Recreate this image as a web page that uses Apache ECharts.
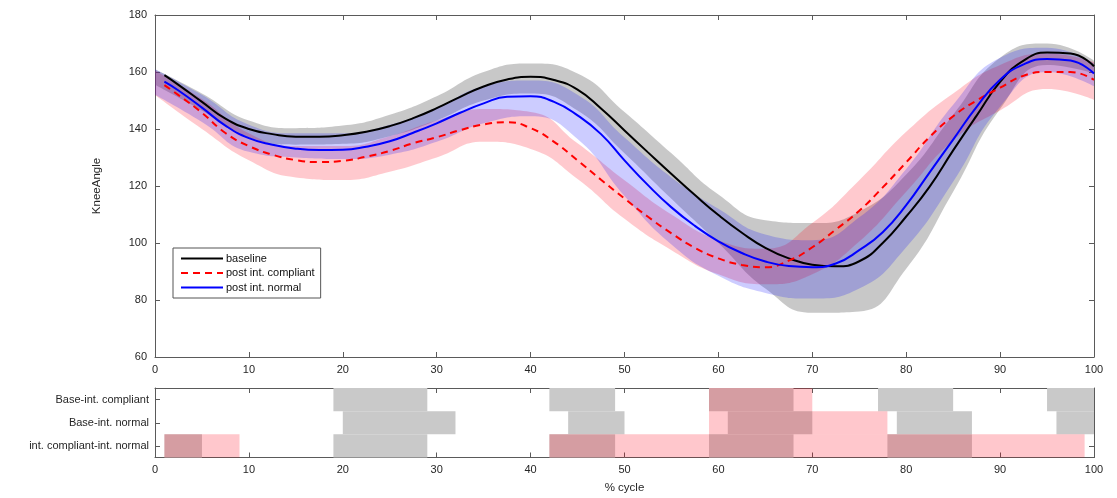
<!DOCTYPE html>
<html>
<head>
<meta charset="utf-8">
<script src="https://cdn.jsdelivr.net/npm/echarts@6/dist/echarts.min.js"></script>
<style>
  html, body { margin: 0; padding: 0; background: #fff; }
  #chart { width: 1117px; height: 498px; }
</style>
</head>
<body>
<div id="chart"></div>
<script>
// Mean knee angle curves (deg) over the gait cycle (%)
const cycleLine = [1, 2.5, 5, 7.5, 10, 12.5, 15, 17.5, 20, 22.5, 25, 27.5, 30, 32.5, 35, 37.5, 40, 42.5, 45, 47.5,
                   50, 52.5, 55, 57.5, 60, 62.5, 65, 67.5, 70, 72.5, 75, 77.5, 80, 82.5, 85, 87.5, 90, 92.5, 95, 97.5, 100];
const baselineMean = [158.9, 155.5, 149.5, 143.6, 140, 138.2, 137.3, 137.3, 137.8, 139, 141, 143.8, 147.3, 151.3, 154.9, 157.4, 158.3, 157.2, 153.8, 147.2,
                      139.5, 131.8, 124.2, 116.8, 109.8, 103.6, 98.3, 94.6, 92.4, 91.8, 93.6, 100, 109.3, 119.8, 132.5, 144.7, 156.5, 164, 166.8, 166.5, 162];
const compliantMean = [155.4, 151.9, 145.7, 138.6, 134, 131, 129.1, 128.4, 128.8, 130.3, 132.3, 135, 137.1, 139.6, 141.6, 142.4, 140.3, 135.5, 129, 122.2,
                       115.6, 109.2, 103.4, 98.3, 94.6, 92.3, 91.5, 93.8, 98.5, 104.7, 111.3, 119.5, 128.3, 137.2, 144.5, 150, 154.5, 158.7, 160, 160, 157.2];
const normalMean = [156.6, 153.5, 147.5, 141.2, 136.8, 134.5, 133.1, 132.6, 132.7, 133.8, 135.7, 138.7, 142, 145.7, 149, 151.3, 151.5, 149.5, 144.8, 138.2,
                    129, 120.3, 112.5, 106, 100.6, 96.5, 93.5, 91.9, 91.5, 92.8, 97.5, 103.8, 113.3, 124.8, 136.3, 147.8, 157.3, 162.7, 164.6, 164, 159.5];

// Spread envelopes (lower / upper) sampled every 5 %
const cycleBand = ['0', '5', '10', '15', '20', '25', '30', '35', '40', '45', '50', '55', '60', '65', '70', '75', '80', '85', '90', '95', '100'];
const baselineLo  = [155.5, 146.5, 137, 134.5, 134.8, 137.5, 143, 150, 152.5, 146.5, 131.5, 115.5, 100, 84, 75.5, 76, 91, 118, 147, 162.5, 159.5];
const baselineHi  = [161, 152.5, 143, 140.3, 141.2, 145, 151.5, 160, 163, 159.5, 146, 131.5, 117, 108, 107, 111, 124, 145, 165, 170, 164];
const compliantLo = [151.9, 140, 129, 123, 122.1, 125, 130, 135.5, 133, 122.5, 108.5, 97.5, 89, 85.5, 89, 100.5, 118, 136, 146.5, 154, 150.2];
const compliantHi = [160.5, 150.5, 138.5, 134, 134, 137.5, 143, 147, 146, 135, 122, 110, 101, 98, 107, 122, 139, 152.5, 162.5, 166.5, 163.5];
const normalLo    = [152, 142.5, 132, 130, 129.5, 131, 135.5, 142, 144.5, 136.5, 116.5, 99.5, 88.5, 82.5, 80.5, 84, 98.5, 121.5, 147.8, 160, 155];
const normalHi    = [161, 152, 141.5, 138.5, 138.5, 141.5, 147.5, 155, 157, 152, 137, 123, 112, 103, 101, 109, 126, 148.5, 165, 168.5, 163];

// Comparison rows (bottom to top) and significant stretches of the cycle [start, end]
const comparisons = ['int. compliant-int. normal', 'Base-int. normal', 'Base-int. compliant'];
const sigTest1 = [
  [[1, 5], [19, 29], [42, 49], [59, 68], [78, 87]],
  [[20, 32], [44, 50], [61, 70], [79, 87], [96, 100]],
  [[19, 29], [42, 49], [59, 68], [77, 85], [95, 100]]
];
const sigTest2 = [
  [[1, 9], [42, 99]],
  [[59, 78]],
  [[59, 70]]
];

const axisColor = '#262626';
const frameColor = '#5a5a5a';
const font = 'Liberation Sans, Arial, Helvetica, sans-serif';

function runRows(runs) {
  const rows = [];
  runs.forEach((list, r) => list.forEach(([a, b]) => rows.push([a, b, r])));
  return rows;
}

function renderRun(params, api) {
  const r = api.value(2);
  const p0 = api.coord([api.value(0), r]);
  const p1 = api.coord([api.value(1), r]);
  const h = api.size([0, 1])[1];
  return {
    type: 'rect',
    shape: { x: p0[0], y: p0[1] - h / 2, width: p1[0] - p0[0], height: h },
    style: api.style()
  };
}

function bandSeries(name, lo, hi, color) {
  return [
    {
      name: name + ' lower', type: 'line', xAxisIndex: 4, yAxisIndex: 4,
      stack: name, smooth: true, symbol: 'none', silent: true,
      lineStyle: { opacity: 0 }, data: lo
    },
    {
      name: name + ' spread', type: 'line', xAxisIndex: 4, yAxisIndex: 4,
      stack: name, smooth: true, symbol: 'none', silent: true,
      lineStyle: { opacity: 0 }, areaStyle: { color: color, opacity: 1 },
      data: hi.map((v, i) => v - lo[i])
    }
  ];
}

function meanSeries(name, values, color, type, width) {
  return {
    name: name, type: 'line', xAxisIndex: 0, yAxisIndex: 0,
    smooth: true, symbol: 'none', z: 5,
    itemStyle: { color: color },
    lineStyle: { color: color, width: width, type: type },
    data: cycleLine.map((x, i) => [x, values[i]])
  };
}

const frameLine = { show: true, onZero: false, lineStyle: { color: frameColor, width: 1 } };
const innerTick = { show: true, inside: true, length: 5, lineStyle: { color: frameColor } };

const valueX = (grid, pos, labels, extra) => Object.assign({
  type: 'value', gridIndex: grid, position: pos, min: 0, max: 100, interval: 10,
  axisLine: frameLine, axisTick: innerTick,
  axisLabel: { show: labels, color: axisColor, fontFamily: font, fontSize: 11, margin: 7 },
  splitLine: { show: false }
}, extra || {});

const chart = echarts.init(document.getElementById('chart'), null, { renderer: 'canvas' });

chart.setOption({
  animation: false,
  backgroundColor: '#fff',
  grid: [
    { left: 155, right: 23, top: 15, height: 342 },
    { left: 155, right: 23, top: 388, height: 69.5 },
    { left: 155, right: 23, top: 15, height: 342 }
  ],
  xAxis: [
    valueX(0, 'bottom', true),
    valueX(0, 'top', false),
    valueX(1, 'bottom', true, {
      name: '% cycle', nameLocation: 'middle', nameGap: 24,
      nameTextStyle: { color: axisColor, fontFamily: font, fontSize: 11.5 }
    }),
    valueX(1, 'top', false),
    { type: 'category', gridIndex: 2, data: cycleBand, boundaryGap: false, show: false }
  ],
  yAxis: [
    {
      type: 'value', gridIndex: 0, position: 'left', min: 60, max: 180, interval: 20,
      name: 'KneeAngle', nameLocation: 'middle', nameGap: 52,
      nameTextStyle: { color: axisColor, fontFamily: font, fontSize: 11.5 },
      axisLine: frameLine, axisTick: innerTick,
      axisLabel: { color: axisColor, fontFamily: font, fontSize: 11, margin: 8 },
      splitLine: { show: false }
    },
    {
      type: 'value', gridIndex: 0, position: 'right', min: 60, max: 180, interval: 20,
      axisLine: frameLine, axisTick: innerTick,
      axisLabel: { show: false }, splitLine: { show: false }
    },
    {
      type: 'category', gridIndex: 1, position: 'left', data: comparisons,
      axisLine: frameLine,
      axisTick: Object.assign({ alignWithLabel: true }, innerTick),
      axisLabel: { color: axisColor, fontFamily: font, fontSize: 11, margin: 6 },
      splitLine: { show: false }
    },
    {
      type: 'category', gridIndex: 1, position: 'right', data: comparisons,
      axisLine: frameLine,
      axisTick: Object.assign({ alignWithLabel: true }, innerTick),
      axisLabel: { show: false }, splitLine: { show: false }
    },
    { type: 'value', gridIndex: 2, min: 60, max: 180, show: false }
  ],
  legend: {
    data: ['baseline', 'post int. compliant', 'post int. normal'],
    orient: 'vertical', left: 173, top: 248,
    itemWidth: 42, itemHeight: 10, itemGap: 3.5,
    padding: [5, 6, 5, 7],
    borderColor: '#555', borderWidth: 1, backgroundColor: '#fff',
    itemStyle: { opacity: 0 },
    textStyle: { color: '#111', fontFamily: font, fontSize: 11, padding: [0, 0, 0, -2] },
    selectedMode: false
  },
  series: [
    ...bandSeries('baseline', baselineLo, baselineHi, 'rgba(110,110,110,0.38)'),
    ...bandSeries('post int. compliant', compliantLo, compliantHi, 'rgba(255,0,25,0.21)'),
    ...bandSeries('post int. normal', normalLo, normalHi, 'rgba(0,0,255,0.2)'),
    meanSeries('baseline', baselineMean, '#000000', 'solid', 2),
    meanSeries('post int. compliant', compliantMean, '#ff0000', [7, 5], 2),
    meanSeries('post int. normal', normalMean, '#0000ff', 'solid', 2),
    {
      name: 'test 1', type: 'custom', xAxisIndex: 2, yAxisIndex: 2,
      renderItem: renderRun, encode: { x: [0, 1], y: 2 }, silent: true,
      itemStyle: { color: '#c9c9c9' },
      data: runRows(sigTest1)
    },
    {
      name: 'test 2', type: 'custom', xAxisIndex: 2, yAxisIndex: 2,
      renderItem: renderRun, encode: { x: [0, 1], y: 2 }, silent: true,
      itemStyle: { color: 'rgba(255,0,21,0.22)' },
      data: runRows(sigTest2)
    }
  ]
});
</script>
</body>
</html>
